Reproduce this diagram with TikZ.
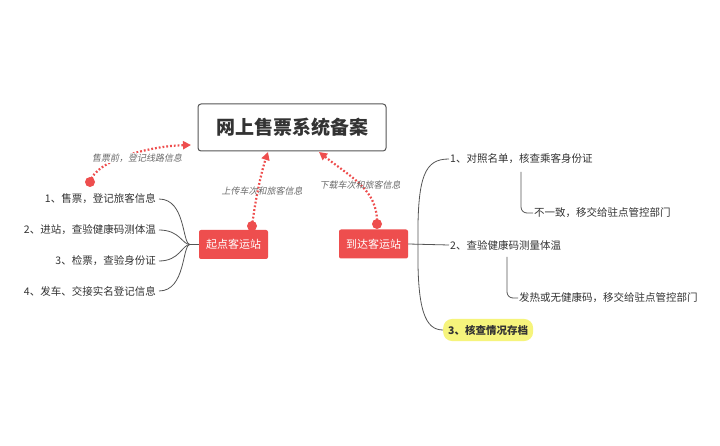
\documentclass[tikz,border=0pt]{standalone}
\usepackage{fontspec}
\setmainfont{Noto Sans CJK SC}
\newfontfamily\cjki{Noto Sans CJK SC}[FakeSlant=0.2]
\usetikzlibrary{arrows.meta}
\definecolor{redn}{HTML}{EE4E4E}
\definecolor{linec}{HTML}{555555}
\definecolor{txt}{HTML}{333333}
\definecolor{lab}{HTML}{6A6A6A}
\definecolor{hl}{HTML}{F6F47C}
\begin{document}
\begin{tikzpicture}[x=1pt,y=-1pt,
  redbox/.style={fill=redn,rounded corners=2pt,minimum width=69pt,minimum height=29pt,text=white,font=\fontsize{11}{13}\selectfont,inner sep=0pt},
  item/.style={text=txt,font=\fontsize{10.5}{12}\selectfont,inner sep=1pt},
  branch/.style={draw=linec,line width=0.8pt},
  dots/.style={draw=redn,line width=2.2pt,dash pattern=on 1.8pt off 2pt,-{Triangle[length=8pt,width=8pt,fill=redn]}},
  dotend/.style={circle,fill=redn,minimum size=10pt,inner sep=0pt},
  lbl/.style={text=lab,font=\cjki\fontsize{9}{11}\selectfont,inner sep=1pt}]
\useasboundingbox[fill=white] (0,0) rectangle (720,446);

% title
\node[draw=linec,line width=1pt,rounded corners=3pt,minimum width=188pt,minimum height=47pt,inner sep=0pt,text=txt,font=\bfseries\fontsize{19}{22}\selectfont] (title) at (292,127.5) {网上售票系统备案};

% station nodes
\node[redbox] (start) at (233.5,244.5) {起点客运站};
\node[redbox] (end) at (373.5,244) {到达客运站};

% left items
\node[item,anchor=east] (l1) at (157,199) {1、售票，登记旅客信息};
\node[item,anchor=east] (l2) at (157,230) {2、进站，查验健康码测体温};
\node[item,anchor=east] (l3) at (157,261) {3、检票，查验身份证};
\node[item,anchor=east] (l4) at (157,291) {4、发车、交接实名登记信息};
\coordinate (lj) at (190,244.5);
\draw[branch] (start.west) -- (lj);
\draw[branch] (l1.east) ++(2,0) .. controls (186,199) and (182,244.5) .. (lj);
\draw[branch] (l2.east) ++(2,0) .. controls (180,230) and (182,244.5) .. (lj);
\draw[branch] (l3.east) ++(2,0) .. controls (180,261) and (182,244.5) .. (lj);
\draw[branch] (l4.east) ++(2,0) .. controls (186,291) and (182,244.5) .. (lj);

% right items
\node[item,anchor=west] (r1) at (449,159) {1、对照名单，核查乘客身份证};
\node[item,anchor=west] (r2) at (449,245) {2、查验健康码测量体温};
\node[item,anchor=west,fill=hl,rounded corners=9pt,inner xsep=5pt,inner ysep=6pt,font=\bfseries\fontsize{10.5}{12}\selectfont] (r3) at (443,330) {3、核查情况存档};
\node[item,anchor=west] (s1) at (533,213) {不一致，移交给驻点管控部门};
\node[item,anchor=west] (s2) at (518,298) {发热或无健康码，移交给驻点管控部门};
\coordinate (rj) at (418,245);
\draw[branch] (end.east) -- (r2.west);
\draw[branch] (rj) .. controls (417,175) and (425,159) .. (r1.west);
\draw[branch] (rj) .. controls (417,310) and (425,330) .. (r3.west);
\coordinate (c1) at (521,172);
\coordinate (c2) at (507,257);
\draw[branch,rounded corners=6pt] (c1) |- (s1.west);
\draw[branch,rounded corners=6pt] (c2) |- (s2.west);

% dotted arrows
\node[dotend] (d1) at (90,182) {};
\node[dotend] (d2) at (252,226) {};
\node[dotend] (d3) at (377,224) {};
\coordinate (t1) at (191,145);
\coordinate (t2) at (268,152);
\coordinate (t3) at (319,152);
\draw[dots] (d1.center) .. controls (96,160) and (150,146) .. (t1);
\draw[dots] (d2.center) .. controls (256,195) and (262,170) .. (t2);
\draw[dots] (d3.center) .. controls (378,190) and (352,178) .. (t3);
\node[lbl,fill=white] (a1) at (137,158) {售票前，登记线路信息};
\node[lbl] (a2) at (262,191) {上传车次和旅客信息};
\node[lbl] (a3) at (360,185) {下载车次和旅客信息};
\end{tikzpicture}
\end{document}
